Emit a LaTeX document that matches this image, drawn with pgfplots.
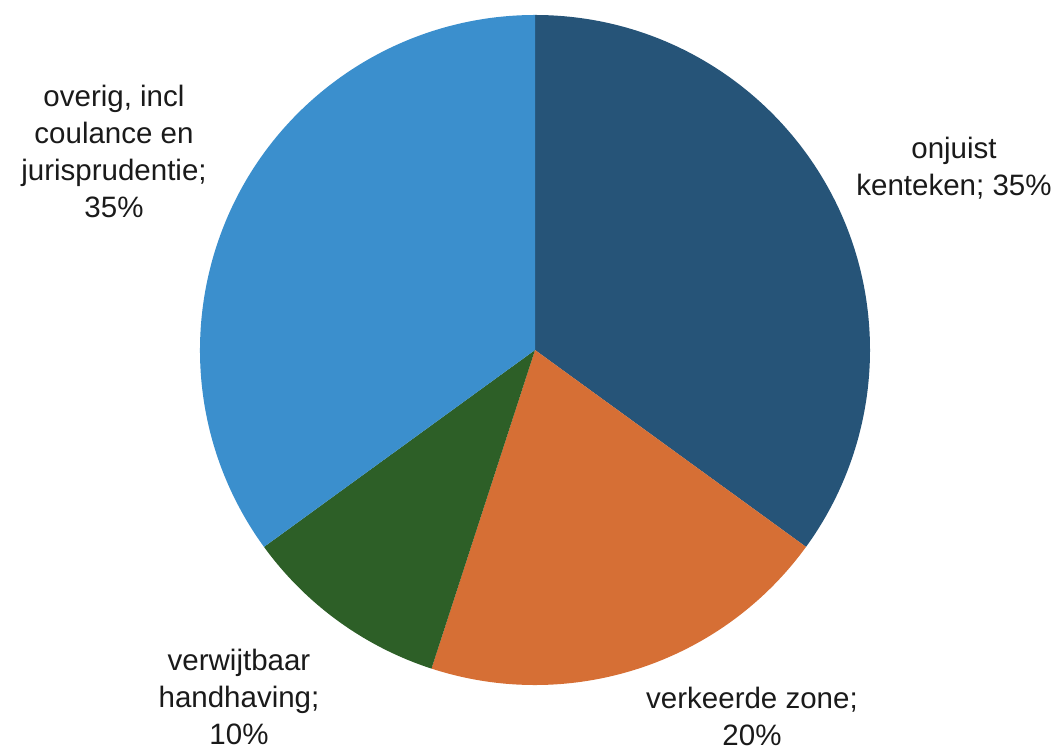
\documentclass[border=0pt]{standalone}
\usepackage{pgfplots}
\pgfplotsset{compat=1.18}
\usepackage{fontspec}
\setmainfont{Liberation Sans}
\definecolor{cA}{HTML}{265478}
\definecolor{cB}{HTML}{D66F35}
\definecolor{cC}{HTML}{2D5F27}
\definecolor{cD}{HTML}{3B8FCD}
\definecolor{txt}{HTML}{1A1A1A}
\begin{document}
\begin{tikzpicture}
% slice values (percent), clockwise from the top
\def\vA{35}\def\vB{20}\def\vC{10}\def\vD{35}
\pgfmathsetmacro\aS{90}
\pgfmathsetmacro\aA{\aS-3.6*\vA}
\pgfmathsetmacro\aB{\aA-3.6*\vB}
\pgfmathsetmacro\aC{\aB-3.6*\vC}
\pgfmathsetmacro\aD{\aC-3.6*\vD}
\begin{axis}[
  width=1058pt, height=751pt, scale only axis,
  xmin=0, xmax=1058, ymin=0, ymax=751,
  hide axis, clip=false,
]
\path (axis cs:0,0) rectangle (axis cs:1058,751);
\fill[cA] (axis cs:535,401) -- ++(\aS:335pt) arc[start angle=\aS, end angle=\aA, radius=335pt] -- cycle;
\fill[cB] (axis cs:535,401) -- ++(\aA:335pt) arc[start angle=\aA, end angle=\aB, radius=335pt] -- cycle;
\fill[cC] (axis cs:535,401) -- ++(\aB:335pt) arc[start angle=\aB, end angle=\aC, radius=335pt] -- cycle;
\fill[cD] (axis cs:535,401) -- ++(\aC:335pt) arc[start angle=\aC, end angle=\aD, radius=335pt] -- cycle;
\tikzset{lab/.style={align=center, text=txt, font=\fontsize{29.5}{37}\selectfont, inner sep=0pt}}
\node[lab] at (axis cs:954,583) {onjuist\\kenteken; 35\%};
\node[lab] at (axis cs:114,600) {overig, incl\\coulance en\\jurisprudentie;\\35\%};
\node[lab] at (axis cs:239,54) {verwijtbaar\\handhaving;\\10\%};
\node[lab] at (axis cs:752,35) {verkeerde zone;\\20\%};
\end{axis}
\end{tikzpicture}
\end{document}
